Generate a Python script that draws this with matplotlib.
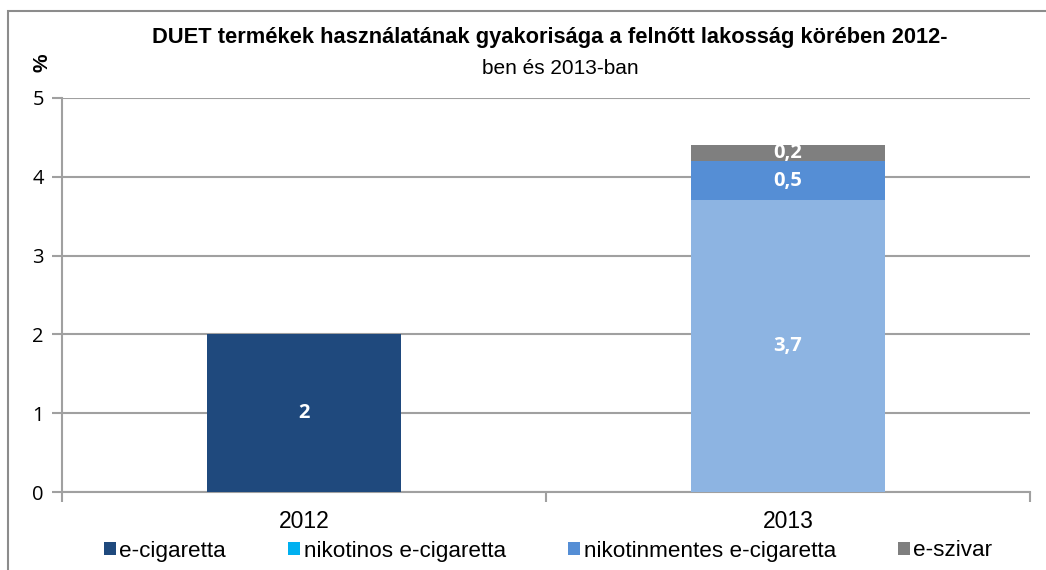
import matplotlib
matplotlib.use("Agg")
import matplotlib.pyplot as plt
from matplotlib.patches import Patch, Rectangle
import numpy as np

years = ["2012", "2013"]
series_names = ["e-cigaretta", "nikotinos e-cigaretta", "nikotinmentes e-cigaretta", "e-szivar"]
e_cigaretta = [2.0, 0.0]
nikotinos = [0.0, 3.7]
nikotinmentes = [0.0, 0.5]
e_szivar = [0.0, 0.2]
labels_e_cig = ["2", ""]
labels_nikotinos = ["", "3,7"]
labels_nikotinmentes = ["", "0,5"]
labels_e_szivar = ["", "0,2"]
yticks = [0, 1, 2, 3, 4, 5]

legend_colors = ["#1F497D", "#00B0F0", "#558ED5", "#7F7F7F"]
# per-bar colours (2013 nikotinos segment drawn light blue as in the reference)
bar_colors = [
    ["#1F497D", "#1F497D"],
    ["#00B0F0", "#8DB4E2"],
    ["#558ED5", "#558ED5"],
    ["#7F7F7F", "#7F7F7F"],
]

NARROW = ["Liberation Sans", "DejaVu Sans"]
CAL = ["Open Sans", "DejaVu Sans"]

fig = plt.figure(figsize=(10.46, 5.70), dpi=100)
ax = fig.add_axes([62/1046, 78/570, 968/1046, 394/570])

x = np.arange(len(years))
data = [e_cigaretta, nikotinos, nikotinmentes, e_szivar]
labels = [labels_e_cig, labels_nikotinos, labels_nikotinmentes, labels_e_szivar]
bottom = np.zeros(len(years))
for i, vals in enumerate(data):
    vals = np.array(vals)
    ax.bar(x, vals, width=0.4, bottom=bottom, color=bar_colors[i], zorder=3, linewidth=0)
    for j, v in enumerate(vals):
        if labels[i][j]:
            ax.text(x[j], bottom[j] + v / 2, labels[i][j], ha="center", va="center",
                    color="white", fontsize=14.5, fontweight="bold", family=CAL, zorder=4)
    bottom += vals

ax.set_xlim(-0.5, 1.5)
ax.set_ylim(0, 5)
ax.set_yticks(yticks)
ax.set_yticklabels([str(t) for t in yticks], family=CAL, fontsize=14.5)
ax.yaxis.grid(True, color="#A0A0A0", linewidth=1.5, zorder=0)
ax.set_axisbelow(True)
for s in ["top", "right"]:
    ax.spines[s].set_visible(False)
for s in ["left", "bottom"]:
    ax.spines[s].set_color("#A0A0A0")
    ax.spines[s].set_linewidth(1.5)
ax.tick_params(axis="y", length=7, width=1.5, color="#A0A0A0", pad=6)
ax.set_xticks([-0.5, 0.5, 1.5])
ax.set_xticklabels([])
ax.tick_params(axis="x", length=7, width=1.5, color="#A0A0A0")
for j, yr in enumerate(years):
    ax.text(x[j], -0.37, yr, ha="center", va="center", fontsize=16.5, family=NARROW,
            transform=ax.transData)

fig.text(550/1046, 1 - 38/570, "DUET termékek használatának gyakorisága a felnőtt lakosság körében 2012-",
         ha="center", va="center", fontsize=15.75, fontweight="bold", family=NARROW)
fig.text(560/1046, 1 - 69/570, "ben és 2013-ban", ha="center", va="center", fontsize=15, family=NARROW)
fig.text(42/1046, 1 - 63/570, "%", ha="center", va="center", fontsize=15, fontweight="bold",
         rotation=90, family=NARROW)

handles = [Patch(facecolor=c, edgecolor="none") for c in legend_colors]
leg = fig.legend(handles, series_names, loc="center", bbox_to_anchor=(548/1046, 1 - 551/570), ncol=4,
                 frameon=False, handlelength=0.55, handleheight=0.55, handletextpad=0.15,
                 columnspacing=2.75, borderpad=0, borderaxespad=0,
                 prop={"family": NARROW, "size": 16.2})

# outer chart border (top and left visible)
fig.add_artist(Rectangle((8/1046, -0.1), 1.2, (1 - 11/570) + 0.1, transform=fig.transFigure,
                         fill=False, edgecolor="#8C8C8C", linewidth=1.5))

fig.savefig("out.png", dpi=100)
